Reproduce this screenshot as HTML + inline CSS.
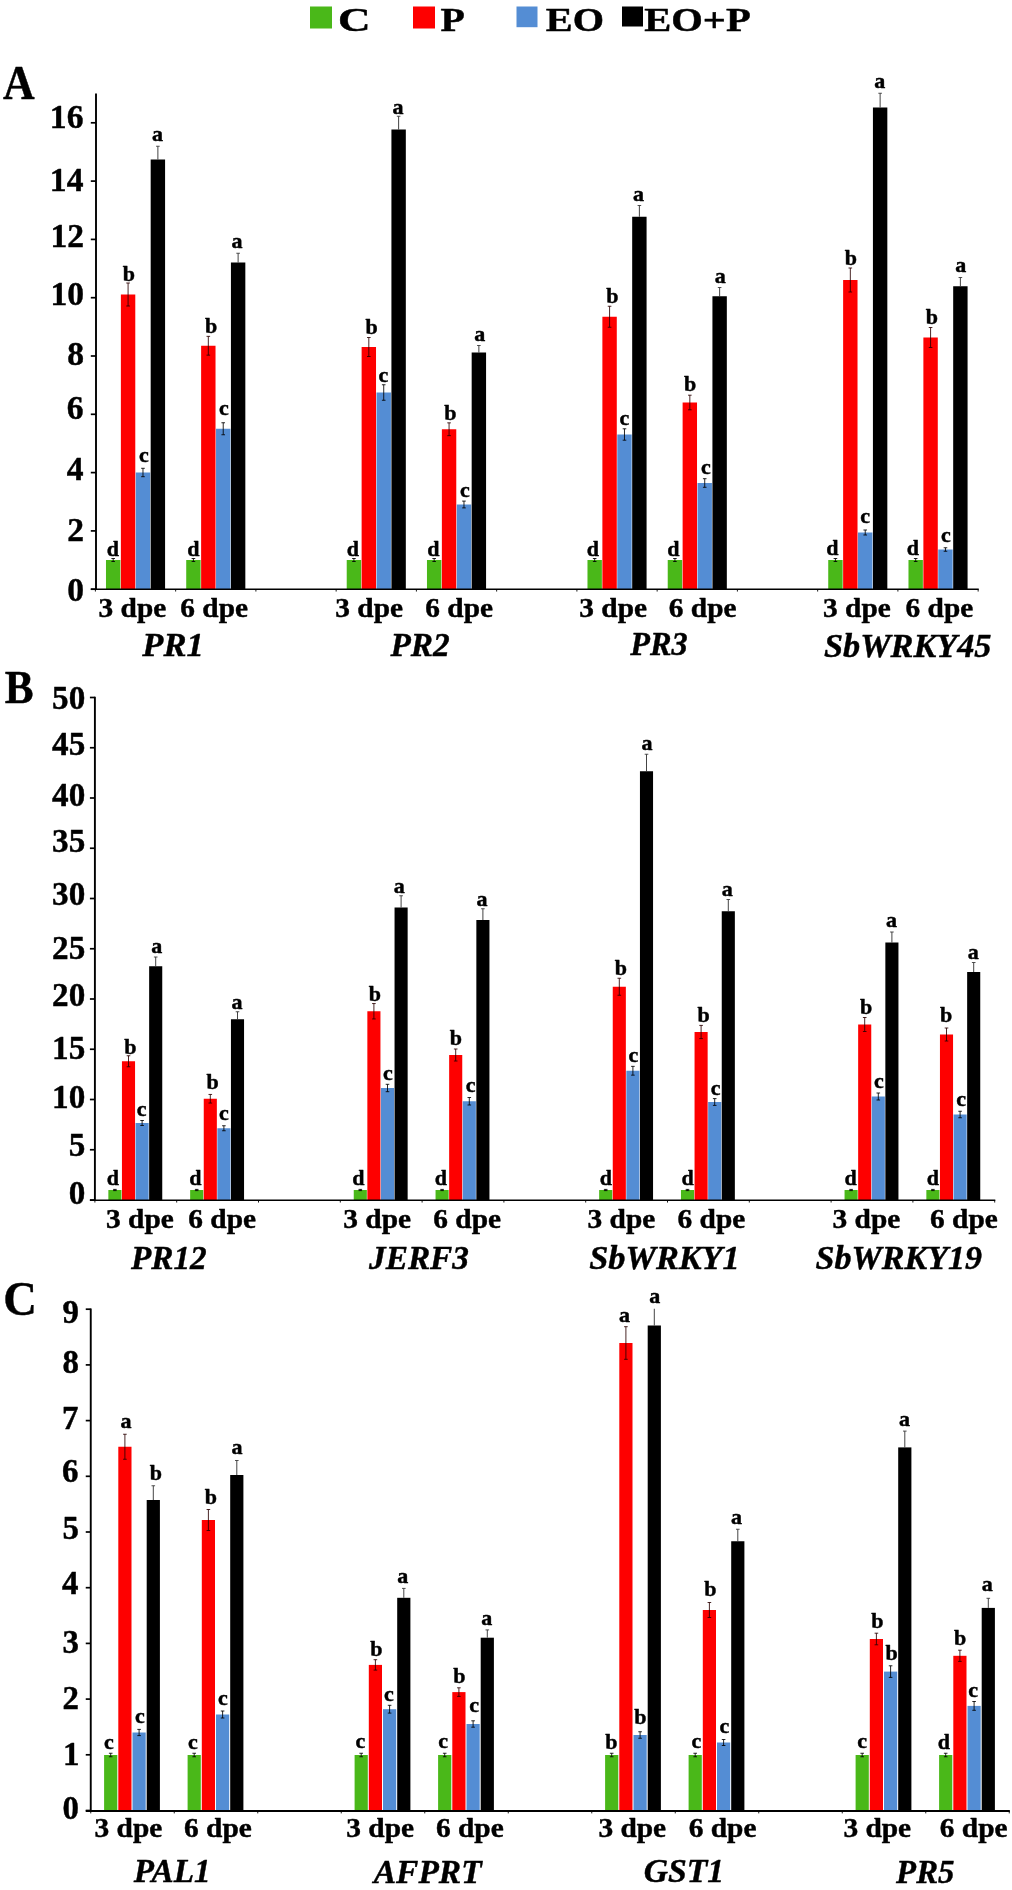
<!DOCTYPE html>
<html lang="en">
<head>
<meta charset="utf-8">
<title>Gene expression bar charts</title>
<style>
html,body{margin:0;padding:0;background:#fff;}
body{width:1012px;height:1890px;overflow:hidden;}
svg{display:block;will-change:transform;}
svg text{font-family:"Liberation Serif", "DejaVu Serif", serif;font-weight:bold;fill:#000;stroke:#000;stroke-width:0.45px;stroke-linejoin:round;white-space:pre;}
</style>
</head>
<body>
<svg width="1012" height="1890" viewBox="0 0 1012 1890">
<rect x="0" y="0" width="1012" height="1890" fill="#ffffff"/>
<g id="legend">
<rect x="310" y="6.5" width="22" height="22.0" fill="#4ab819"/>
<rect x="413" y="6.5" width="22" height="22.0" fill="#fe0000"/>
<rect x="516.5" y="6.5" width="21.0" height="20.7" fill="#548dd4"/>
<rect x="622" y="6.5" width="21" height="20.0" fill="#000000"/>
</g>
<g id="shapes">
<rect x="105.98" y="560.00" width="14.40" height="29.20" fill="#4ab819"/>
<rect x="120.88" y="294.50" width="14.40" height="294.70" fill="#fe0000"/>
<rect x="135.78" y="472.50" width="14.40" height="116.70" fill="#548dd4"/>
<rect x="150.68" y="159.50" width="14.40" height="429.70" fill="#000000"/>
<rect x="186.22" y="560.00" width="14.40" height="29.20" fill="#4ab819"/>
<rect x="201.12" y="345.75" width="14.40" height="243.45" fill="#fe0000"/>
<rect x="216.03" y="428.75" width="14.40" height="160.45" fill="#548dd4"/>
<rect x="230.93" y="262.50" width="14.40" height="326.70" fill="#000000"/>
<rect x="346.72" y="560.00" width="14.40" height="29.20" fill="#4ab819"/>
<rect x="361.62" y="347.00" width="14.40" height="242.20" fill="#fe0000"/>
<rect x="376.52" y="392.50" width="14.40" height="196.70" fill="#548dd4"/>
<rect x="391.42" y="129.50" width="14.40" height="459.70" fill="#000000"/>
<rect x="426.97" y="560.00" width="14.40" height="29.20" fill="#4ab819"/>
<rect x="441.87" y="429.25" width="14.40" height="159.95" fill="#fe0000"/>
<rect x="456.77" y="504.50" width="14.40" height="84.70" fill="#548dd4"/>
<rect x="471.67" y="352.50" width="14.40" height="236.70" fill="#000000"/>
<rect x="587.48" y="560.00" width="14.40" height="29.20" fill="#4ab819"/>
<rect x="602.38" y="316.75" width="14.40" height="272.45" fill="#fe0000"/>
<rect x="617.27" y="434.50" width="14.40" height="154.70" fill="#548dd4"/>
<rect x="632.18" y="216.75" width="14.40" height="372.45" fill="#000000"/>
<rect x="667.73" y="560.00" width="14.40" height="29.20" fill="#4ab819"/>
<rect x="682.62" y="402.50" width="14.40" height="186.70" fill="#fe0000"/>
<rect x="697.52" y="483.00" width="14.40" height="106.20" fill="#548dd4"/>
<rect x="712.43" y="296.25" width="14.40" height="292.95" fill="#000000"/>
<rect x="828.23" y="560.00" width="14.40" height="29.20" fill="#4ab819"/>
<rect x="843.12" y="280.00" width="14.40" height="309.20" fill="#fe0000"/>
<rect x="858.02" y="532.50" width="14.40" height="56.70" fill="#548dd4"/>
<rect x="872.93" y="107.50" width="14.40" height="481.70" fill="#000000"/>
<rect x="908.48" y="560.00" width="14.40" height="29.20" fill="#4ab819"/>
<rect x="923.38" y="337.50" width="14.40" height="251.70" fill="#fe0000"/>
<rect x="938.27" y="549.50" width="14.40" height="39.70" fill="#548dd4"/>
<rect x="953.18" y="286.25" width="14.40" height="302.95" fill="#000000"/>
<line x1="96.00" y1="93.60" x2="96.00" y2="590.05" stroke="#000" stroke-width="1.9"/>
<line x1="90.80" y1="589.30" x2="978.75" y2="589.30" stroke="#000" stroke-width="1.5"/>
<line x1="90.80" y1="589.20" x2="96.00" y2="589.20" stroke="#000" stroke-width="1.7"/>
<line x1="90.80" y1="530.90" x2="96.00" y2="530.90" stroke="#000" stroke-width="1.7"/>
<line x1="90.80" y1="472.60" x2="96.00" y2="472.60" stroke="#000" stroke-width="1.7"/>
<line x1="90.80" y1="414.30" x2="96.00" y2="414.30" stroke="#000" stroke-width="1.7"/>
<line x1="90.80" y1="356.00" x2="96.00" y2="356.00" stroke="#000" stroke-width="1.7"/>
<line x1="90.80" y1="297.70" x2="96.00" y2="297.70" stroke="#000" stroke-width="1.7"/>
<line x1="90.80" y1="239.40" x2="96.00" y2="239.40" stroke="#000" stroke-width="1.7"/>
<line x1="90.80" y1="181.10" x2="96.00" y2="181.10" stroke="#000" stroke-width="1.7"/>
<line x1="90.80" y1="122.80" x2="96.00" y2="122.80" stroke="#000" stroke-width="1.7"/>
<line x1="95.40" y1="589.30" x2="95.40" y2="591.55" stroke="#000" stroke-width="0.9"/>
<line x1="175.65" y1="589.30" x2="175.65" y2="591.55" stroke="#000" stroke-width="0.9"/>
<line x1="255.90" y1="589.30" x2="255.90" y2="591.55" stroke="#000" stroke-width="0.9"/>
<line x1="336.15" y1="589.30" x2="336.15" y2="591.55" stroke="#000" stroke-width="0.9"/>
<line x1="416.40" y1="589.30" x2="416.40" y2="591.55" stroke="#000" stroke-width="0.9"/>
<line x1="496.65" y1="589.30" x2="496.65" y2="591.55" stroke="#000" stroke-width="0.9"/>
<line x1="576.90" y1="589.30" x2="576.90" y2="591.55" stroke="#000" stroke-width="0.9"/>
<line x1="657.15" y1="589.30" x2="657.15" y2="591.55" stroke="#000" stroke-width="0.9"/>
<line x1="737.40" y1="589.30" x2="737.40" y2="591.55" stroke="#000" stroke-width="0.9"/>
<line x1="817.65" y1="589.30" x2="817.65" y2="591.55" stroke="#000" stroke-width="0.9"/>
<line x1="897.90" y1="589.30" x2="897.90" y2="591.55" stroke="#000" stroke-width="0.9"/>
<line x1="978.15" y1="589.30" x2="978.15" y2="591.55" stroke="#000" stroke-width="0.9"/>
<line x1="113.18" y1="558.50" x2="113.18" y2="561.50" stroke="#000" stroke-width="0.85"/>
<line x1="111.38" y1="561.50" x2="114.98" y2="561.50" stroke="#000" stroke-width="0.85"/>
<line x1="111.38" y1="558.50" x2="114.98" y2="558.50" stroke="#000" stroke-width="0.85"/>
<line x1="128.08" y1="283.00" x2="128.08" y2="306.00" stroke="#2a0000" stroke-width="0.85"/>
<line x1="126.28" y1="306.00" x2="129.88" y2="306.00" stroke="#2a0000" stroke-width="0.85"/>
<line x1="126.28" y1="283.00" x2="129.88" y2="283.00" stroke="#2a0000" stroke-width="0.85"/>
<line x1="142.97" y1="468.30" x2="142.97" y2="476.70" stroke="#000" stroke-width="0.85"/>
<line x1="141.17" y1="476.70" x2="144.78" y2="476.70" stroke="#000" stroke-width="0.85"/>
<line x1="141.17" y1="468.30" x2="144.78" y2="468.30" stroke="#000" stroke-width="0.85"/>
<line x1="157.88" y1="146.25" x2="157.88" y2="159.50" stroke="#222" stroke-width="0.85"/>
<line x1="156.07" y1="146.25" x2="159.68" y2="146.25" stroke="#333" stroke-width="0.85"/>
<line x1="193.42" y1="558.50" x2="193.42" y2="561.50" stroke="#000" stroke-width="0.85"/>
<line x1="191.62" y1="561.50" x2="195.22" y2="561.50" stroke="#000" stroke-width="0.85"/>
<line x1="191.62" y1="558.50" x2="195.22" y2="558.50" stroke="#000" stroke-width="0.85"/>
<line x1="208.32" y1="336.35" x2="208.32" y2="355.15" stroke="#2a0000" stroke-width="0.85"/>
<line x1="206.52" y1="355.15" x2="210.12" y2="355.15" stroke="#2a0000" stroke-width="0.85"/>
<line x1="206.52" y1="336.35" x2="210.12" y2="336.35" stroke="#2a0000" stroke-width="0.85"/>
<line x1="223.22" y1="422.75" x2="223.22" y2="434.75" stroke="#000" stroke-width="0.85"/>
<line x1="221.42" y1="434.75" x2="225.03" y2="434.75" stroke="#000" stroke-width="0.85"/>
<line x1="221.42" y1="422.75" x2="225.03" y2="422.75" stroke="#000" stroke-width="0.85"/>
<line x1="238.12" y1="253.25" x2="238.12" y2="262.50" stroke="#222" stroke-width="0.85"/>
<line x1="236.32" y1="253.25" x2="239.93" y2="253.25" stroke="#333" stroke-width="0.85"/>
<line x1="353.92" y1="558.50" x2="353.92" y2="561.50" stroke="#000" stroke-width="0.85"/>
<line x1="352.12" y1="561.50" x2="355.72" y2="561.50" stroke="#000" stroke-width="0.85"/>
<line x1="352.12" y1="558.50" x2="355.72" y2="558.50" stroke="#000" stroke-width="0.85"/>
<line x1="368.82" y1="337.50" x2="368.82" y2="356.50" stroke="#2a0000" stroke-width="0.85"/>
<line x1="367.02" y1="356.50" x2="370.62" y2="356.50" stroke="#2a0000" stroke-width="0.85"/>
<line x1="367.02" y1="337.50" x2="370.62" y2="337.50" stroke="#2a0000" stroke-width="0.85"/>
<line x1="383.72" y1="384.75" x2="383.72" y2="400.25" stroke="#000" stroke-width="0.85"/>
<line x1="381.92" y1="400.25" x2="385.52" y2="400.25" stroke="#000" stroke-width="0.85"/>
<line x1="381.92" y1="384.75" x2="385.52" y2="384.75" stroke="#000" stroke-width="0.85"/>
<line x1="398.62" y1="116.25" x2="398.62" y2="129.50" stroke="#222" stroke-width="0.85"/>
<line x1="396.82" y1="116.25" x2="400.42" y2="116.25" stroke="#333" stroke-width="0.85"/>
<line x1="434.17" y1="558.50" x2="434.17" y2="561.50" stroke="#000" stroke-width="0.85"/>
<line x1="432.37" y1="561.50" x2="435.97" y2="561.50" stroke="#000" stroke-width="0.85"/>
<line x1="432.37" y1="558.50" x2="435.97" y2="558.50" stroke="#000" stroke-width="0.85"/>
<line x1="449.07" y1="422.85" x2="449.07" y2="435.65" stroke="#2a0000" stroke-width="0.85"/>
<line x1="447.27" y1="435.65" x2="450.87" y2="435.65" stroke="#2a0000" stroke-width="0.85"/>
<line x1="447.27" y1="422.85" x2="450.87" y2="422.85" stroke="#2a0000" stroke-width="0.85"/>
<line x1="463.97" y1="501.10" x2="463.97" y2="507.90" stroke="#000" stroke-width="0.85"/>
<line x1="462.17" y1="507.90" x2="465.77" y2="507.90" stroke="#000" stroke-width="0.85"/>
<line x1="462.17" y1="501.10" x2="465.77" y2="501.10" stroke="#000" stroke-width="0.85"/>
<line x1="478.87" y1="345.50" x2="478.87" y2="352.50" stroke="#222" stroke-width="0.85"/>
<line x1="477.07" y1="345.50" x2="480.67" y2="345.50" stroke="#333" stroke-width="0.85"/>
<line x1="594.68" y1="558.50" x2="594.68" y2="561.50" stroke="#000" stroke-width="0.85"/>
<line x1="592.88" y1="561.50" x2="596.48" y2="561.50" stroke="#000" stroke-width="0.85"/>
<line x1="592.88" y1="558.50" x2="596.48" y2="558.50" stroke="#000" stroke-width="0.85"/>
<line x1="609.58" y1="306.25" x2="609.58" y2="327.25" stroke="#2a0000" stroke-width="0.85"/>
<line x1="607.78" y1="327.25" x2="611.38" y2="327.25" stroke="#2a0000" stroke-width="0.85"/>
<line x1="607.78" y1="306.25" x2="611.38" y2="306.25" stroke="#2a0000" stroke-width="0.85"/>
<line x1="624.48" y1="428.80" x2="624.48" y2="440.20" stroke="#000" stroke-width="0.85"/>
<line x1="622.68" y1="440.20" x2="626.27" y2="440.20" stroke="#000" stroke-width="0.85"/>
<line x1="622.68" y1="428.80" x2="626.27" y2="428.80" stroke="#000" stroke-width="0.85"/>
<line x1="639.38" y1="205.50" x2="639.38" y2="216.75" stroke="#222" stroke-width="0.85"/>
<line x1="637.58" y1="205.50" x2="641.18" y2="205.50" stroke="#333" stroke-width="0.85"/>
<line x1="674.93" y1="558.50" x2="674.93" y2="561.50" stroke="#000" stroke-width="0.85"/>
<line x1="673.13" y1="561.50" x2="676.73" y2="561.50" stroke="#000" stroke-width="0.85"/>
<line x1="673.13" y1="558.50" x2="676.73" y2="558.50" stroke="#000" stroke-width="0.85"/>
<line x1="689.83" y1="395.20" x2="689.83" y2="409.80" stroke="#2a0000" stroke-width="0.85"/>
<line x1="688.03" y1="409.80" x2="691.62" y2="409.80" stroke="#2a0000" stroke-width="0.85"/>
<line x1="688.03" y1="395.20" x2="691.62" y2="395.20" stroke="#2a0000" stroke-width="0.85"/>
<line x1="704.73" y1="478.70" x2="704.73" y2="487.30" stroke="#000" stroke-width="0.85"/>
<line x1="702.93" y1="487.30" x2="706.52" y2="487.30" stroke="#000" stroke-width="0.85"/>
<line x1="702.93" y1="478.70" x2="706.52" y2="478.70" stroke="#000" stroke-width="0.85"/>
<line x1="719.63" y1="287.50" x2="719.63" y2="296.25" stroke="#222" stroke-width="0.85"/>
<line x1="717.83" y1="287.50" x2="721.43" y2="287.50" stroke="#333" stroke-width="0.85"/>
<line x1="835.43" y1="558.50" x2="835.43" y2="561.50" stroke="#000" stroke-width="0.85"/>
<line x1="833.63" y1="561.50" x2="837.23" y2="561.50" stroke="#000" stroke-width="0.85"/>
<line x1="833.63" y1="558.50" x2="837.23" y2="558.50" stroke="#000" stroke-width="0.85"/>
<line x1="850.33" y1="268.00" x2="850.33" y2="292.00" stroke="#2a0000" stroke-width="0.85"/>
<line x1="848.53" y1="292.00" x2="852.12" y2="292.00" stroke="#2a0000" stroke-width="0.85"/>
<line x1="848.53" y1="268.00" x2="852.12" y2="268.00" stroke="#2a0000" stroke-width="0.85"/>
<line x1="865.23" y1="530.00" x2="865.23" y2="535.00" stroke="#000" stroke-width="0.85"/>
<line x1="863.43" y1="535.00" x2="867.02" y2="535.00" stroke="#000" stroke-width="0.85"/>
<line x1="863.43" y1="530.00" x2="867.02" y2="530.00" stroke="#000" stroke-width="0.85"/>
<line x1="880.13" y1="93.25" x2="880.13" y2="107.50" stroke="#222" stroke-width="0.85"/>
<line x1="878.33" y1="93.25" x2="881.93" y2="93.25" stroke="#333" stroke-width="0.85"/>
<line x1="915.68" y1="558.50" x2="915.68" y2="561.50" stroke="#000" stroke-width="0.85"/>
<line x1="913.88" y1="561.50" x2="917.48" y2="561.50" stroke="#000" stroke-width="0.85"/>
<line x1="913.88" y1="558.50" x2="917.48" y2="558.50" stroke="#000" stroke-width="0.85"/>
<line x1="930.58" y1="327.50" x2="930.58" y2="347.50" stroke="#2a0000" stroke-width="0.85"/>
<line x1="928.78" y1="347.50" x2="932.38" y2="347.50" stroke="#2a0000" stroke-width="0.85"/>
<line x1="928.78" y1="327.50" x2="932.38" y2="327.50" stroke="#2a0000" stroke-width="0.85"/>
<line x1="945.48" y1="547.75" x2="945.48" y2="551.25" stroke="#000" stroke-width="0.85"/>
<line x1="943.68" y1="551.25" x2="947.27" y2="551.25" stroke="#000" stroke-width="0.85"/>
<line x1="943.68" y1="547.75" x2="947.27" y2="547.75" stroke="#000" stroke-width="0.85"/>
<line x1="960.38" y1="277.50" x2="960.38" y2="286.25" stroke="#222" stroke-width="0.85"/>
<line x1="958.58" y1="277.50" x2="962.18" y2="277.50" stroke="#333" stroke-width="0.85"/>
<rect x="108.35" y="1190.00" width="13.10" height="10.00" fill="#4ab819"/>
<rect x="121.95" y="1061.25" width="13.10" height="138.75" fill="#fe0000"/>
<rect x="135.55" y="1123.00" width="13.10" height="77.00" fill="#548dd4"/>
<rect x="149.15" y="966.25" width="13.10" height="233.75" fill="#000000"/>
<rect x="190.15" y="1190.00" width="13.10" height="10.00" fill="#4ab819"/>
<rect x="203.75" y="1098.75" width="13.10" height="101.25" fill="#fe0000"/>
<rect x="217.35" y="1128.25" width="13.10" height="71.75" fill="#548dd4"/>
<rect x="230.95" y="1019.25" width="13.10" height="180.75" fill="#000000"/>
<rect x="353.75" y="1190.00" width="13.10" height="10.00" fill="#4ab819"/>
<rect x="367.35" y="1011.25" width="13.10" height="188.75" fill="#fe0000"/>
<rect x="380.95" y="1088.00" width="13.10" height="112.00" fill="#548dd4"/>
<rect x="394.55" y="907.50" width="13.10" height="292.50" fill="#000000"/>
<rect x="435.55" y="1190.00" width="13.10" height="10.00" fill="#4ab819"/>
<rect x="449.15" y="1055.00" width="13.10" height="145.00" fill="#fe0000"/>
<rect x="462.75" y="1101.25" width="13.10" height="98.75" fill="#548dd4"/>
<rect x="476.35" y="920.00" width="13.10" height="280.00" fill="#000000"/>
<rect x="599.15" y="1190.00" width="13.10" height="10.00" fill="#4ab819"/>
<rect x="612.75" y="986.75" width="13.10" height="213.25" fill="#fe0000"/>
<rect x="626.35" y="1070.75" width="13.10" height="129.25" fill="#548dd4"/>
<rect x="639.95" y="771.25" width="13.10" height="428.75" fill="#000000"/>
<rect x="680.95" y="1190.00" width="13.10" height="10.00" fill="#4ab819"/>
<rect x="694.55" y="1032.00" width="13.10" height="168.00" fill="#fe0000"/>
<rect x="708.15" y="1102.00" width="13.10" height="98.00" fill="#548dd4"/>
<rect x="721.75" y="911.25" width="13.10" height="288.75" fill="#000000"/>
<rect x="844.55" y="1190.00" width="13.10" height="10.00" fill="#4ab819"/>
<rect x="858.15" y="1024.50" width="13.10" height="175.50" fill="#fe0000"/>
<rect x="871.75" y="1096.50" width="13.10" height="103.50" fill="#548dd4"/>
<rect x="885.35" y="942.50" width="13.10" height="257.50" fill="#000000"/>
<rect x="926.35" y="1190.00" width="13.10" height="10.00" fill="#4ab819"/>
<rect x="939.95" y="1034.50" width="13.10" height="165.50" fill="#fe0000"/>
<rect x="953.55" y="1114.50" width="13.10" height="85.50" fill="#548dd4"/>
<rect x="967.15" y="972.00" width="13.10" height="228.00" fill="#000000"/>
<line x1="94.90" y1="696.65" x2="94.90" y2="1201.05" stroke="#000" stroke-width="1.9"/>
<line x1="89.90" y1="1200.25" x2="995.30" y2="1200.25" stroke="#000" stroke-width="1.6"/>
<line x1="89.90" y1="697.50" x2="94.90" y2="697.50" stroke="#000" stroke-width="1.7"/>
<line x1="89.90" y1="747.75" x2="94.90" y2="747.75" stroke="#000" stroke-width="1.7"/>
<line x1="89.90" y1="798.00" x2="94.90" y2="798.00" stroke="#000" stroke-width="1.7"/>
<line x1="89.90" y1="848.25" x2="94.90" y2="848.25" stroke="#000" stroke-width="1.7"/>
<line x1="89.90" y1="898.50" x2="94.90" y2="898.50" stroke="#000" stroke-width="1.7"/>
<line x1="89.90" y1="948.75" x2="94.90" y2="948.75" stroke="#000" stroke-width="1.7"/>
<line x1="89.90" y1="999.00" x2="94.90" y2="999.00" stroke="#000" stroke-width="1.7"/>
<line x1="89.90" y1="1049.25" x2="94.90" y2="1049.25" stroke="#000" stroke-width="1.7"/>
<line x1="89.90" y1="1099.50" x2="94.90" y2="1099.50" stroke="#000" stroke-width="1.7"/>
<line x1="89.90" y1="1149.75" x2="94.90" y2="1149.75" stroke="#000" stroke-width="1.7"/>
<line x1="89.90" y1="1200.00" x2="94.90" y2="1200.00" stroke="#000" stroke-width="1.7"/>
<line x1="94.90" y1="1200.25" x2="94.90" y2="1202.55" stroke="#000" stroke-width="0.9"/>
<line x1="176.70" y1="1200.25" x2="176.70" y2="1202.55" stroke="#000" stroke-width="0.9"/>
<line x1="258.50" y1="1200.25" x2="258.50" y2="1202.55" stroke="#000" stroke-width="0.9"/>
<line x1="340.30" y1="1200.25" x2="340.30" y2="1202.55" stroke="#000" stroke-width="0.9"/>
<line x1="422.10" y1="1200.25" x2="422.10" y2="1202.55" stroke="#000" stroke-width="0.9"/>
<line x1="503.90" y1="1200.25" x2="503.90" y2="1202.55" stroke="#000" stroke-width="0.9"/>
<line x1="585.70" y1="1200.25" x2="585.70" y2="1202.55" stroke="#000" stroke-width="0.9"/>
<line x1="667.50" y1="1200.25" x2="667.50" y2="1202.55" stroke="#000" stroke-width="0.9"/>
<line x1="749.30" y1="1200.25" x2="749.30" y2="1202.55" stroke="#000" stroke-width="0.9"/>
<line x1="831.10" y1="1200.25" x2="831.10" y2="1202.55" stroke="#000" stroke-width="0.9"/>
<line x1="912.90" y1="1200.25" x2="912.90" y2="1202.55" stroke="#000" stroke-width="0.9"/>
<line x1="994.70" y1="1200.25" x2="994.70" y2="1202.55" stroke="#000" stroke-width="0.9"/>
<line x1="114.90" y1="1189.40" x2="114.90" y2="1190.60" stroke="#000" stroke-width="0.85"/>
<line x1="113.10" y1="1190.60" x2="116.70" y2="1190.60" stroke="#000" stroke-width="0.85"/>
<line x1="113.10" y1="1189.40" x2="116.70" y2="1189.40" stroke="#000" stroke-width="0.85"/>
<line x1="128.50" y1="1055.75" x2="128.50" y2="1066.75" stroke="#2a0000" stroke-width="0.85"/>
<line x1="126.70" y1="1066.75" x2="130.30" y2="1066.75" stroke="#2a0000" stroke-width="0.85"/>
<line x1="126.70" y1="1055.75" x2="130.30" y2="1055.75" stroke="#2a0000" stroke-width="0.85"/>
<line x1="142.10" y1="1120.50" x2="142.10" y2="1125.50" stroke="#000" stroke-width="0.85"/>
<line x1="140.30" y1="1125.50" x2="143.90" y2="1125.50" stroke="#000" stroke-width="0.85"/>
<line x1="140.30" y1="1120.50" x2="143.90" y2="1120.50" stroke="#000" stroke-width="0.85"/>
<line x1="155.70" y1="957.00" x2="155.70" y2="966.25" stroke="#222" stroke-width="0.85"/>
<line x1="153.90" y1="957.00" x2="157.50" y2="957.00" stroke="#333" stroke-width="0.85"/>
<line x1="196.70" y1="1189.40" x2="196.70" y2="1190.60" stroke="#000" stroke-width="0.85"/>
<line x1="194.90" y1="1190.60" x2="198.50" y2="1190.60" stroke="#000" stroke-width="0.85"/>
<line x1="194.90" y1="1189.40" x2="198.50" y2="1189.40" stroke="#000" stroke-width="0.85"/>
<line x1="210.30" y1="1094.45" x2="210.30" y2="1103.05" stroke="#2a0000" stroke-width="0.85"/>
<line x1="208.50" y1="1103.05" x2="212.10" y2="1103.05" stroke="#2a0000" stroke-width="0.85"/>
<line x1="208.50" y1="1094.45" x2="212.10" y2="1094.45" stroke="#2a0000" stroke-width="0.85"/>
<line x1="223.90" y1="1125.75" x2="223.90" y2="1130.75" stroke="#000" stroke-width="0.85"/>
<line x1="222.10" y1="1130.75" x2="225.70" y2="1130.75" stroke="#000" stroke-width="0.85"/>
<line x1="222.10" y1="1125.75" x2="225.70" y2="1125.75" stroke="#000" stroke-width="0.85"/>
<line x1="237.50" y1="1011.75" x2="237.50" y2="1019.25" stroke="#222" stroke-width="0.85"/>
<line x1="235.70" y1="1011.75" x2="239.30" y2="1011.75" stroke="#333" stroke-width="0.85"/>
<line x1="360.30" y1="1189.40" x2="360.30" y2="1190.60" stroke="#000" stroke-width="0.85"/>
<line x1="358.50" y1="1190.60" x2="362.10" y2="1190.60" stroke="#000" stroke-width="0.85"/>
<line x1="358.50" y1="1189.40" x2="362.10" y2="1189.40" stroke="#000" stroke-width="0.85"/>
<line x1="373.90" y1="1003.55" x2="373.90" y2="1018.95" stroke="#2a0000" stroke-width="0.85"/>
<line x1="372.10" y1="1018.95" x2="375.70" y2="1018.95" stroke="#2a0000" stroke-width="0.85"/>
<line x1="372.10" y1="1003.55" x2="375.70" y2="1003.55" stroke="#2a0000" stroke-width="0.85"/>
<line x1="387.50" y1="1084.30" x2="387.50" y2="1091.70" stroke="#000" stroke-width="0.85"/>
<line x1="385.70" y1="1091.70" x2="389.30" y2="1091.70" stroke="#000" stroke-width="0.85"/>
<line x1="385.70" y1="1084.30" x2="389.30" y2="1084.30" stroke="#000" stroke-width="0.85"/>
<line x1="401.10" y1="895.75" x2="401.10" y2="907.50" stroke="#222" stroke-width="0.85"/>
<line x1="399.30" y1="895.75" x2="402.90" y2="895.75" stroke="#333" stroke-width="0.85"/>
<line x1="442.10" y1="1189.40" x2="442.10" y2="1190.60" stroke="#000" stroke-width="0.85"/>
<line x1="440.30" y1="1190.60" x2="443.90" y2="1190.60" stroke="#000" stroke-width="0.85"/>
<line x1="440.30" y1="1189.40" x2="443.90" y2="1189.40" stroke="#000" stroke-width="0.85"/>
<line x1="455.70" y1="1049.00" x2="455.70" y2="1061.00" stroke="#2a0000" stroke-width="0.85"/>
<line x1="453.90" y1="1061.00" x2="457.50" y2="1061.00" stroke="#2a0000" stroke-width="0.85"/>
<line x1="453.90" y1="1049.00" x2="457.50" y2="1049.00" stroke="#2a0000" stroke-width="0.85"/>
<line x1="469.30" y1="1097.50" x2="469.30" y2="1105.00" stroke="#000" stroke-width="0.85"/>
<line x1="467.50" y1="1105.00" x2="471.10" y2="1105.00" stroke="#000" stroke-width="0.85"/>
<line x1="467.50" y1="1097.50" x2="471.10" y2="1097.50" stroke="#000" stroke-width="0.85"/>
<line x1="482.90" y1="908.75" x2="482.90" y2="920.00" stroke="#222" stroke-width="0.85"/>
<line x1="481.10" y1="908.75" x2="484.70" y2="908.75" stroke="#333" stroke-width="0.85"/>
<line x1="605.70" y1="1189.40" x2="605.70" y2="1190.60" stroke="#000" stroke-width="0.85"/>
<line x1="603.90" y1="1190.60" x2="607.50" y2="1190.60" stroke="#000" stroke-width="0.85"/>
<line x1="603.90" y1="1189.40" x2="607.50" y2="1189.40" stroke="#000" stroke-width="0.85"/>
<line x1="619.30" y1="978.25" x2="619.30" y2="995.25" stroke="#2a0000" stroke-width="0.85"/>
<line x1="617.50" y1="995.25" x2="621.10" y2="995.25" stroke="#2a0000" stroke-width="0.85"/>
<line x1="617.50" y1="978.25" x2="621.10" y2="978.25" stroke="#2a0000" stroke-width="0.85"/>
<line x1="632.90" y1="1066.35" x2="632.90" y2="1075.15" stroke="#000" stroke-width="0.85"/>
<line x1="631.10" y1="1075.15" x2="634.70" y2="1075.15" stroke="#000" stroke-width="0.85"/>
<line x1="631.10" y1="1066.35" x2="634.70" y2="1066.35" stroke="#000" stroke-width="0.85"/>
<line x1="646.50" y1="754.25" x2="646.50" y2="771.25" stroke="#222" stroke-width="0.85"/>
<line x1="644.70" y1="754.25" x2="648.30" y2="754.25" stroke="#333" stroke-width="0.85"/>
<line x1="687.50" y1="1189.40" x2="687.50" y2="1190.60" stroke="#000" stroke-width="0.85"/>
<line x1="685.70" y1="1190.60" x2="689.30" y2="1190.60" stroke="#000" stroke-width="0.85"/>
<line x1="685.70" y1="1189.40" x2="689.30" y2="1189.40" stroke="#000" stroke-width="0.85"/>
<line x1="701.10" y1="1025.40" x2="701.10" y2="1038.60" stroke="#2a0000" stroke-width="0.85"/>
<line x1="699.30" y1="1038.60" x2="702.90" y2="1038.60" stroke="#2a0000" stroke-width="0.85"/>
<line x1="699.30" y1="1025.40" x2="702.90" y2="1025.40" stroke="#2a0000" stroke-width="0.85"/>
<line x1="714.70" y1="1098.60" x2="714.70" y2="1105.40" stroke="#000" stroke-width="0.85"/>
<line x1="712.90" y1="1105.40" x2="716.50" y2="1105.40" stroke="#000" stroke-width="0.85"/>
<line x1="712.90" y1="1098.60" x2="716.50" y2="1098.60" stroke="#000" stroke-width="0.85"/>
<line x1="728.30" y1="899.50" x2="728.30" y2="911.25" stroke="#222" stroke-width="0.85"/>
<line x1="726.50" y1="899.50" x2="730.10" y2="899.50" stroke="#333" stroke-width="0.85"/>
<line x1="851.10" y1="1189.40" x2="851.10" y2="1190.60" stroke="#000" stroke-width="0.85"/>
<line x1="849.30" y1="1190.60" x2="852.90" y2="1190.60" stroke="#000" stroke-width="0.85"/>
<line x1="849.30" y1="1189.40" x2="852.90" y2="1189.40" stroke="#000" stroke-width="0.85"/>
<line x1="864.70" y1="1017.50" x2="864.70" y2="1031.50" stroke="#2a0000" stroke-width="0.85"/>
<line x1="862.90" y1="1031.50" x2="866.50" y2="1031.50" stroke="#2a0000" stroke-width="0.85"/>
<line x1="862.90" y1="1017.50" x2="866.50" y2="1017.50" stroke="#2a0000" stroke-width="0.85"/>
<line x1="878.30" y1="1093.00" x2="878.30" y2="1100.00" stroke="#000" stroke-width="0.85"/>
<line x1="876.50" y1="1100.00" x2="880.10" y2="1100.00" stroke="#000" stroke-width="0.85"/>
<line x1="876.50" y1="1093.00" x2="880.10" y2="1093.00" stroke="#000" stroke-width="0.85"/>
<line x1="891.90" y1="932.00" x2="891.90" y2="942.50" stroke="#222" stroke-width="0.85"/>
<line x1="890.10" y1="932.00" x2="893.70" y2="932.00" stroke="#333" stroke-width="0.85"/>
<line x1="932.90" y1="1189.40" x2="932.90" y2="1190.60" stroke="#000" stroke-width="0.85"/>
<line x1="931.10" y1="1190.60" x2="934.70" y2="1190.60" stroke="#000" stroke-width="0.85"/>
<line x1="931.10" y1="1189.40" x2="934.70" y2="1189.40" stroke="#000" stroke-width="0.85"/>
<line x1="946.50" y1="1028.00" x2="946.50" y2="1041.00" stroke="#2a0000" stroke-width="0.85"/>
<line x1="944.70" y1="1041.00" x2="948.30" y2="1041.00" stroke="#2a0000" stroke-width="0.85"/>
<line x1="944.70" y1="1028.00" x2="948.30" y2="1028.00" stroke="#2a0000" stroke-width="0.85"/>
<line x1="960.10" y1="1111.25" x2="960.10" y2="1117.75" stroke="#000" stroke-width="0.85"/>
<line x1="958.30" y1="1117.75" x2="961.90" y2="1117.75" stroke="#000" stroke-width="0.85"/>
<line x1="958.30" y1="1111.25" x2="961.90" y2="1111.25" stroke="#000" stroke-width="0.85"/>
<line x1="973.70" y1="962.50" x2="973.70" y2="972.00" stroke="#222" stroke-width="0.85"/>
<line x1="971.90" y1="962.50" x2="975.50" y2="962.50" stroke="#333" stroke-width="0.85"/>
<rect x="104.10" y="1755.00" width="13.20" height="55.50" fill="#4ab819"/>
<rect x="118.30" y="1446.75" width="13.20" height="363.75" fill="#fe0000"/>
<rect x="132.50" y="1732.50" width="13.20" height="78.00" fill="#548dd4"/>
<rect x="146.70" y="1500.00" width="13.20" height="310.50" fill="#000000"/>
<rect x="187.60" y="1755.00" width="13.20" height="55.50" fill="#4ab819"/>
<rect x="201.80" y="1520.00" width="13.20" height="290.50" fill="#fe0000"/>
<rect x="216.00" y="1714.50" width="13.20" height="96.00" fill="#548dd4"/>
<rect x="230.20" y="1475.00" width="13.20" height="335.50" fill="#000000"/>
<rect x="354.60" y="1755.00" width="13.20" height="55.50" fill="#4ab819"/>
<rect x="368.80" y="1664.90" width="13.20" height="145.60" fill="#fe0000"/>
<rect x="383.00" y="1709.20" width="13.20" height="101.30" fill="#548dd4"/>
<rect x="397.20" y="1597.80" width="13.20" height="212.70" fill="#000000"/>
<rect x="438.10" y="1755.00" width="13.20" height="55.50" fill="#4ab819"/>
<rect x="452.30" y="1692.10" width="13.20" height="118.40" fill="#fe0000"/>
<rect x="466.50" y="1724.00" width="13.20" height="86.50" fill="#548dd4"/>
<rect x="480.70" y="1637.70" width="13.20" height="172.80" fill="#000000"/>
<rect x="605.10" y="1755.00" width="13.20" height="55.50" fill="#4ab819"/>
<rect x="619.30" y="1343.00" width="13.20" height="467.50" fill="#fe0000"/>
<rect x="633.50" y="1735.00" width="13.20" height="75.50" fill="#548dd4"/>
<rect x="647.70" y="1325.50" width="13.20" height="485.00" fill="#000000"/>
<rect x="688.60" y="1755.00" width="13.20" height="55.50" fill="#4ab819"/>
<rect x="702.80" y="1610.00" width="13.20" height="200.50" fill="#fe0000"/>
<rect x="717.00" y="1742.50" width="13.20" height="68.00" fill="#548dd4"/>
<rect x="731.20" y="1541.25" width="13.20" height="269.25" fill="#000000"/>
<rect x="855.60" y="1755.00" width="13.20" height="55.50" fill="#4ab819"/>
<rect x="869.80" y="1639.00" width="13.20" height="171.50" fill="#fe0000"/>
<rect x="884.00" y="1671.60" width="13.20" height="138.90" fill="#548dd4"/>
<rect x="898.20" y="1447.40" width="13.20" height="363.10" fill="#000000"/>
<rect x="939.10" y="1755.00" width="13.20" height="55.50" fill="#4ab819"/>
<rect x="953.30" y="1655.80" width="13.20" height="154.70" fill="#fe0000"/>
<rect x="967.50" y="1705.90" width="13.20" height="104.60" fill="#548dd4"/>
<rect x="981.70" y="1607.90" width="13.20" height="202.60" fill="#000000"/>
<line x1="90.75" y1="1308.40" x2="90.75" y2="1811.90" stroke="#000" stroke-width="1.9"/>
<line x1="85.75" y1="1811.00" x2="1009.85" y2="1811.00" stroke="#000" stroke-width="1.8"/>
<line x1="85.75" y1="1810.50" x2="90.75" y2="1810.50" stroke="#000" stroke-width="1.7"/>
<line x1="85.75" y1="1754.80" x2="90.75" y2="1754.80" stroke="#000" stroke-width="1.7"/>
<line x1="85.75" y1="1699.10" x2="90.75" y2="1699.10" stroke="#000" stroke-width="1.7"/>
<line x1="85.75" y1="1643.40" x2="90.75" y2="1643.40" stroke="#000" stroke-width="1.7"/>
<line x1="85.75" y1="1587.70" x2="90.75" y2="1587.70" stroke="#000" stroke-width="1.7"/>
<line x1="85.75" y1="1532.00" x2="90.75" y2="1532.00" stroke="#000" stroke-width="1.7"/>
<line x1="85.75" y1="1476.30" x2="90.75" y2="1476.30" stroke="#000" stroke-width="1.7"/>
<line x1="85.75" y1="1420.60" x2="90.75" y2="1420.60" stroke="#000" stroke-width="1.7"/>
<line x1="85.75" y1="1364.90" x2="90.75" y2="1364.90" stroke="#000" stroke-width="1.7"/>
<line x1="85.75" y1="1309.20" x2="90.75" y2="1309.20" stroke="#000" stroke-width="1.7"/>
<line x1="90.75" y1="1811.00" x2="90.75" y2="1813.40" stroke="#000" stroke-width="0.9"/>
<line x1="174.25" y1="1811.00" x2="174.25" y2="1813.40" stroke="#000" stroke-width="0.9"/>
<line x1="257.75" y1="1811.00" x2="257.75" y2="1813.40" stroke="#000" stroke-width="0.9"/>
<line x1="341.25" y1="1811.00" x2="341.25" y2="1813.40" stroke="#000" stroke-width="0.9"/>
<line x1="424.75" y1="1811.00" x2="424.75" y2="1813.40" stroke="#000" stroke-width="0.9"/>
<line x1="508.25" y1="1811.00" x2="508.25" y2="1813.40" stroke="#000" stroke-width="0.9"/>
<line x1="591.75" y1="1811.00" x2="591.75" y2="1813.40" stroke="#000" stroke-width="0.9"/>
<line x1="675.25" y1="1811.00" x2="675.25" y2="1813.40" stroke="#000" stroke-width="0.9"/>
<line x1="758.75" y1="1811.00" x2="758.75" y2="1813.40" stroke="#000" stroke-width="0.9"/>
<line x1="842.25" y1="1811.00" x2="842.25" y2="1813.40" stroke="#000" stroke-width="0.9"/>
<line x1="925.75" y1="1811.00" x2="925.75" y2="1813.40" stroke="#000" stroke-width="0.9"/>
<line x1="1009.25" y1="1811.00" x2="1009.25" y2="1813.40" stroke="#000" stroke-width="0.9"/>
<line x1="110.70" y1="1753.25" x2="110.70" y2="1756.75" stroke="#000" stroke-width="0.85"/>
<line x1="108.90" y1="1756.75" x2="112.50" y2="1756.75" stroke="#000" stroke-width="0.85"/>
<line x1="108.90" y1="1753.25" x2="112.50" y2="1753.25" stroke="#000" stroke-width="0.85"/>
<line x1="124.90" y1="1434.25" x2="124.90" y2="1459.25" stroke="#2a0000" stroke-width="0.85"/>
<line x1="123.10" y1="1459.25" x2="126.70" y2="1459.25" stroke="#2a0000" stroke-width="0.85"/>
<line x1="123.10" y1="1434.25" x2="126.70" y2="1434.25" stroke="#2a0000" stroke-width="0.85"/>
<line x1="139.10" y1="1729.40" x2="139.10" y2="1735.60" stroke="#000" stroke-width="0.85"/>
<line x1="137.30" y1="1735.60" x2="140.90" y2="1735.60" stroke="#000" stroke-width="0.85"/>
<line x1="137.30" y1="1729.40" x2="140.90" y2="1729.40" stroke="#000" stroke-width="0.85"/>
<line x1="153.30" y1="1485.75" x2="153.30" y2="1500.00" stroke="#222" stroke-width="0.85"/>
<line x1="151.50" y1="1485.75" x2="155.10" y2="1485.75" stroke="#333" stroke-width="0.85"/>
<line x1="194.20" y1="1753.25" x2="194.20" y2="1756.75" stroke="#000" stroke-width="0.85"/>
<line x1="192.40" y1="1756.75" x2="196.00" y2="1756.75" stroke="#000" stroke-width="0.85"/>
<line x1="192.40" y1="1753.25" x2="196.00" y2="1753.25" stroke="#000" stroke-width="0.85"/>
<line x1="208.40" y1="1509.50" x2="208.40" y2="1530.50" stroke="#2a0000" stroke-width="0.85"/>
<line x1="206.60" y1="1530.50" x2="210.20" y2="1530.50" stroke="#2a0000" stroke-width="0.85"/>
<line x1="206.60" y1="1509.50" x2="210.20" y2="1509.50" stroke="#2a0000" stroke-width="0.85"/>
<line x1="222.60" y1="1711.00" x2="222.60" y2="1718.00" stroke="#000" stroke-width="0.85"/>
<line x1="220.80" y1="1718.00" x2="224.40" y2="1718.00" stroke="#000" stroke-width="0.85"/>
<line x1="220.80" y1="1711.00" x2="224.40" y2="1711.00" stroke="#000" stroke-width="0.85"/>
<line x1="236.80" y1="1460.50" x2="236.80" y2="1475.00" stroke="#222" stroke-width="0.85"/>
<line x1="235.00" y1="1460.50" x2="238.60" y2="1460.50" stroke="#333" stroke-width="0.85"/>
<line x1="361.20" y1="1753.25" x2="361.20" y2="1756.75" stroke="#000" stroke-width="0.85"/>
<line x1="359.40" y1="1756.75" x2="363.00" y2="1756.75" stroke="#000" stroke-width="0.85"/>
<line x1="359.40" y1="1753.25" x2="363.00" y2="1753.25" stroke="#000" stroke-width="0.85"/>
<line x1="375.40" y1="1659.70" x2="375.40" y2="1670.10" stroke="#2a0000" stroke-width="0.85"/>
<line x1="373.60" y1="1670.10" x2="377.20" y2="1670.10" stroke="#2a0000" stroke-width="0.85"/>
<line x1="373.60" y1="1659.70" x2="377.20" y2="1659.70" stroke="#2a0000" stroke-width="0.85"/>
<line x1="389.60" y1="1705.30" x2="389.60" y2="1713.10" stroke="#000" stroke-width="0.85"/>
<line x1="387.80" y1="1713.10" x2="391.40" y2="1713.10" stroke="#000" stroke-width="0.85"/>
<line x1="387.80" y1="1705.30" x2="391.40" y2="1705.30" stroke="#000" stroke-width="0.85"/>
<line x1="403.80" y1="1588.40" x2="403.80" y2="1597.80" stroke="#222" stroke-width="0.85"/>
<line x1="402.00" y1="1588.40" x2="405.60" y2="1588.40" stroke="#333" stroke-width="0.85"/>
<line x1="444.70" y1="1753.25" x2="444.70" y2="1756.75" stroke="#000" stroke-width="0.85"/>
<line x1="442.90" y1="1756.75" x2="446.50" y2="1756.75" stroke="#000" stroke-width="0.85"/>
<line x1="442.90" y1="1753.25" x2="446.50" y2="1753.25" stroke="#000" stroke-width="0.85"/>
<line x1="458.90" y1="1687.80" x2="458.90" y2="1696.40" stroke="#2a0000" stroke-width="0.85"/>
<line x1="457.10" y1="1696.40" x2="460.70" y2="1696.40" stroke="#2a0000" stroke-width="0.85"/>
<line x1="457.10" y1="1687.80" x2="460.70" y2="1687.80" stroke="#2a0000" stroke-width="0.85"/>
<line x1="473.10" y1="1720.80" x2="473.10" y2="1727.20" stroke="#000" stroke-width="0.85"/>
<line x1="471.30" y1="1727.20" x2="474.90" y2="1727.20" stroke="#000" stroke-width="0.85"/>
<line x1="471.30" y1="1720.80" x2="474.90" y2="1720.80" stroke="#000" stroke-width="0.85"/>
<line x1="487.30" y1="1629.90" x2="487.30" y2="1637.70" stroke="#222" stroke-width="0.85"/>
<line x1="485.50" y1="1629.90" x2="489.10" y2="1629.90" stroke="#333" stroke-width="0.85"/>
<line x1="611.70" y1="1753.25" x2="611.70" y2="1756.75" stroke="#000" stroke-width="0.85"/>
<line x1="609.90" y1="1756.75" x2="613.50" y2="1756.75" stroke="#000" stroke-width="0.85"/>
<line x1="609.90" y1="1753.25" x2="613.50" y2="1753.25" stroke="#000" stroke-width="0.85"/>
<line x1="625.90" y1="1326.70" x2="625.90" y2="1359.30" stroke="#2a0000" stroke-width="0.85"/>
<line x1="624.10" y1="1359.30" x2="627.70" y2="1359.30" stroke="#2a0000" stroke-width="0.85"/>
<line x1="624.10" y1="1326.70" x2="627.70" y2="1326.70" stroke="#2a0000" stroke-width="0.85"/>
<line x1="640.10" y1="1731.75" x2="640.10" y2="1738.25" stroke="#000" stroke-width="0.85"/>
<line x1="638.30" y1="1738.25" x2="641.90" y2="1738.25" stroke="#000" stroke-width="0.85"/>
<line x1="638.30" y1="1731.75" x2="641.90" y2="1731.75" stroke="#000" stroke-width="0.85"/>
<line x1="654.30" y1="1308.75" x2="654.30" y2="1325.50" stroke="#222" stroke-width="0.85"/>
<line x1="695.20" y1="1753.25" x2="695.20" y2="1756.75" stroke="#000" stroke-width="0.85"/>
<line x1="693.40" y1="1756.75" x2="697.00" y2="1756.75" stroke="#000" stroke-width="0.85"/>
<line x1="693.40" y1="1753.25" x2="697.00" y2="1753.25" stroke="#000" stroke-width="0.85"/>
<line x1="709.40" y1="1602.50" x2="709.40" y2="1617.50" stroke="#2a0000" stroke-width="0.85"/>
<line x1="707.60" y1="1617.50" x2="711.20" y2="1617.50" stroke="#2a0000" stroke-width="0.85"/>
<line x1="707.60" y1="1602.50" x2="711.20" y2="1602.50" stroke="#2a0000" stroke-width="0.85"/>
<line x1="723.60" y1="1739.50" x2="723.60" y2="1745.50" stroke="#000" stroke-width="0.85"/>
<line x1="721.80" y1="1745.50" x2="725.40" y2="1745.50" stroke="#000" stroke-width="0.85"/>
<line x1="721.80" y1="1739.50" x2="725.40" y2="1739.50" stroke="#000" stroke-width="0.85"/>
<line x1="737.80" y1="1529.25" x2="737.80" y2="1541.25" stroke="#222" stroke-width="0.85"/>
<line x1="736.00" y1="1529.25" x2="739.60" y2="1529.25" stroke="#333" stroke-width="0.85"/>
<line x1="862.20" y1="1753.25" x2="862.20" y2="1756.75" stroke="#000" stroke-width="0.85"/>
<line x1="860.40" y1="1756.75" x2="864.00" y2="1756.75" stroke="#000" stroke-width="0.85"/>
<line x1="860.40" y1="1753.25" x2="864.00" y2="1753.25" stroke="#000" stroke-width="0.85"/>
<line x1="876.40" y1="1633.20" x2="876.40" y2="1644.80" stroke="#2a0000" stroke-width="0.85"/>
<line x1="874.60" y1="1644.80" x2="878.20" y2="1644.80" stroke="#2a0000" stroke-width="0.85"/>
<line x1="874.60" y1="1633.20" x2="878.20" y2="1633.20" stroke="#2a0000" stroke-width="0.85"/>
<line x1="890.60" y1="1665.80" x2="890.60" y2="1677.40" stroke="#000" stroke-width="0.85"/>
<line x1="888.80" y1="1677.40" x2="892.40" y2="1677.40" stroke="#000" stroke-width="0.85"/>
<line x1="888.80" y1="1665.80" x2="892.40" y2="1665.80" stroke="#000" stroke-width="0.85"/>
<line x1="904.80" y1="1431.10" x2="904.80" y2="1447.40" stroke="#222" stroke-width="0.85"/>
<line x1="903.00" y1="1431.10" x2="906.60" y2="1431.10" stroke="#333" stroke-width="0.85"/>
<line x1="945.70" y1="1753.25" x2="945.70" y2="1756.75" stroke="#000" stroke-width="0.85"/>
<line x1="943.90" y1="1756.75" x2="947.50" y2="1756.75" stroke="#000" stroke-width="0.85"/>
<line x1="943.90" y1="1753.25" x2="947.50" y2="1753.25" stroke="#000" stroke-width="0.85"/>
<line x1="959.90" y1="1650.20" x2="959.90" y2="1661.40" stroke="#2a0000" stroke-width="0.85"/>
<line x1="958.10" y1="1661.40" x2="961.70" y2="1661.40" stroke="#2a0000" stroke-width="0.85"/>
<line x1="958.10" y1="1650.20" x2="961.70" y2="1650.20" stroke="#2a0000" stroke-width="0.85"/>
<line x1="974.10" y1="1701.50" x2="974.10" y2="1710.30" stroke="#000" stroke-width="0.85"/>
<line x1="972.30" y1="1710.30" x2="975.90" y2="1710.30" stroke="#000" stroke-width="0.85"/>
<line x1="972.30" y1="1701.50" x2="975.90" y2="1701.50" stroke="#000" stroke-width="0.85"/>
<line x1="988.30" y1="1598.30" x2="988.30" y2="1607.90" stroke="#222" stroke-width="0.85"/>
<line x1="986.50" y1="1598.30" x2="990.10" y2="1598.30" stroke="#333" stroke-width="0.85"/>
</g>
<g id="labels">
<text transform="translate(337.88 30.70) scale(1.3273 1)" font-size="34">C</text>
<text transform="translate(440.38 30.60) scale(1.1701 1)" font-size="34">P</text>
<text transform="translate(545.87 30.60) scale(1.1843 1)" font-size="34">EO</text>
<text transform="translate(644.17 30.60) scale(1.1934 1)" font-size="34">EO+P</text>
<text transform="translate(3.00 98.75) scale(0.9036 1)" font-size="48.5">A</text>
<text transform="translate(4.83 702.60) scale(0.9290 1)" font-size="46.5">B</text>
<text transform="translate(3.32 1315.00) scale(0.9609 1)" font-size="48.5">C</text>
<text transform="translate(49.86 127.50) scale(0.9700 1)" font-size="34.6">16</text>
<text transform="translate(49.86 191.30) scale(0.9700 1)" font-size="34.6">14</text>
<text transform="translate(50.39 247.00) scale(0.9700 1)" font-size="34.6">12</text>
<text transform="translate(50.39 305.30) scale(0.9700 1)" font-size="34.6">10</text>
<text transform="translate(67.17 365.30) scale(0.9700 1)" font-size="34.6">8</text>
<text transform="translate(66.64 418.90) scale(0.9700 1)" font-size="34.6">6</text>
<text transform="translate(66.64 480.00) scale(0.9700 1)" font-size="34.6">4</text>
<text transform="translate(67.17 540.70) scale(0.9700 1)" font-size="34.6">2</text>
<text transform="translate(67.17 601.00) scale(0.9700 1)" font-size="34.6">0</text>
<text transform="translate(52.11 709.00) scale(0.9800 1)" font-size="33.8">50</text>
<text transform="translate(52.11 754.60) scale(0.9800 1)" font-size="33.8">45</text>
<text transform="translate(52.11 805.60) scale(0.9800 1)" font-size="33.8">40</text>
<text transform="translate(52.11 851.70) scale(0.9800 1)" font-size="33.8">35</text>
<text transform="translate(52.11 905.30) scale(0.9800 1)" font-size="33.8">30</text>
<text transform="translate(52.11 959.00) scale(0.9800 1)" font-size="33.8">25</text>
<text transform="translate(52.11 1005.60) scale(0.9800 1)" font-size="33.8">20</text>
<text transform="translate(52.11 1059.00) scale(0.9800 1)" font-size="33.8">15</text>
<text transform="translate(52.11 1108.00) scale(0.9800 1)" font-size="33.8">10</text>
<text transform="translate(68.67 1156.00) scale(0.9800 1)" font-size="33.8">5</text>
<text transform="translate(68.67 1204.00) scale(0.9800 1)" font-size="33.8">0</text>
<text transform="translate(62.49 1323.30) scale(0.9500 1)" font-size="34.6">9</text>
<text transform="translate(62.49 1373.10) scale(0.9500 1)" font-size="34.6">8</text>
<text transform="translate(61.98 1429.00) scale(0.9500 1)" font-size="34.6">7</text>
<text transform="translate(61.98 1481.50) scale(0.9500 1)" font-size="34.6">6</text>
<text transform="translate(62.49 1538.90) scale(0.9500 1)" font-size="34.6">5</text>
<text transform="translate(61.98 1594.20) scale(0.9500 1)" font-size="34.6">4</text>
<text transform="translate(62.49 1653.30) scale(0.9500 1)" font-size="34.6">3</text>
<text transform="translate(62.49 1709.25) scale(0.9500 1)" font-size="34.6">2</text>
<text transform="translate(63.01 1764.60) scale(0.9500 1)" font-size="34.6">1</text>
<text transform="translate(62.49 1818.90) scale(0.9500 1)" font-size="34.6">0</text>
<text transform="translate(98.58 616.60) scale(1.0494 1)" font-size="28.0">3 dpe</text>
<text transform="translate(180.33 616.60) scale(1.0494 1)" font-size="28.0">6 dpe</text>
<text transform="translate(335.33 616.60) scale(1.0494 1)" font-size="28.0">3 dpe</text>
<text transform="translate(425.33 616.60) scale(1.0494 1)" font-size="28.0">6 dpe</text>
<text transform="translate(579.33 616.60) scale(1.0494 1)" font-size="28.0">3 dpe</text>
<text transform="translate(668.83 616.60) scale(1.0494 1)" font-size="28.0">6 dpe</text>
<text transform="translate(823.08 616.60) scale(1.0494 1)" font-size="28.0">3 dpe</text>
<text transform="translate(905.58 616.60) scale(1.0494 1)" font-size="28.0">6 dpe</text>
<text transform="translate(106.08 1227.80) scale(1.0763 1)" font-size="27.3">3 dpe</text>
<text transform="translate(188.33 1227.80) scale(1.0763 1)" font-size="27.3">6 dpe</text>
<text transform="translate(343.33 1227.80) scale(1.0763 1)" font-size="27.3">3 dpe</text>
<text transform="translate(433.33 1227.80) scale(1.0763 1)" font-size="27.3">6 dpe</text>
<text transform="translate(587.58 1227.80) scale(1.0763 1)" font-size="27.3">3 dpe</text>
<text transform="translate(677.58 1227.80) scale(1.0763 1)" font-size="27.3">6 dpe</text>
<text transform="translate(832.58 1227.80) scale(1.0763 1)" font-size="27.3">3 dpe</text>
<text transform="translate(930.08 1227.80) scale(1.0763 1)" font-size="27.3">6 dpe</text>
<text transform="translate(94.58 1837.40) scale(1.0646 1)" font-size="27.6">3 dpe</text>
<text transform="translate(184.08 1837.40) scale(1.0646 1)" font-size="27.6">6 dpe</text>
<text transform="translate(346.28 1837.40) scale(1.0646 1)" font-size="27.6">3 dpe</text>
<text transform="translate(435.98 1837.40) scale(1.0646 1)" font-size="27.6">6 dpe</text>
<text transform="translate(598.38 1837.40) scale(1.0646 1)" font-size="27.6">3 dpe</text>
<text transform="translate(688.68 1837.40) scale(1.0646 1)" font-size="27.6">6 dpe</text>
<text transform="translate(843.38 1837.40) scale(1.0646 1)" font-size="27.6">3 dpe</text>
<text transform="translate(939.78 1837.40) scale(1.0646 1)" font-size="27.6">6 dpe</text>
<text transform="translate(142.34 655.90) scale(1.0069 1)" font-size="34.3" font-style="italic">PR1</text>
<text transform="translate(390.52 655.80) scale(0.9716 1)" font-size="34.3" font-style="italic">PR2</text>
<text transform="translate(630.26 655.30) scale(0.9429 1)" font-size="34.3" font-style="italic">PR3</text>
<text transform="translate(823.96 657.00) scale(0.9990 1)" font-size="34.3" font-style="italic">SbWRKY45</text>
<text transform="translate(131.02 1268.75) scale(0.9695 1)" font-size="34.3" font-style="italic">PR12</text>
<text transform="translate(369.02 1268.75) scale(0.9715 1)" font-size="34.3" font-style="italic">JERF3</text>
<text transform="translate(589.21 1268.75) scale(0.9995 1)" font-size="34.3" font-style="italic">SbWRKY1</text>
<text transform="translate(815.47 1268.75) scale(0.9930 1)" font-size="34.3" font-style="italic">SbWRKY19</text>
<text transform="translate(133.77 1882.40) scale(0.9680 1)" font-size="34.3" font-style="italic">PAL1</text>
<text transform="translate(373.79 1882.80) scale(0.9760 1)" font-size="34.3" font-style="italic">AFPRT</text>
<text transform="translate(643.70 1882.30) scale(0.9818 1)" font-size="34.3" font-style="italic">GST1</text>
<text transform="translate(896.11 1882.80) scale(0.9561 1)" font-size="34.3" font-style="italic">PR5</text>
<text x="106.64" y="555.50" font-size="22">d</text>
<text x="122.83" y="281.30" font-size="22">b</text>
<text x="138.92" y="462.40" font-size="22">c</text>
<text x="152.06" y="140.50" font-size="22">a</text>
<text x="187.34" y="555.50" font-size="22">d</text>
<text x="204.93" y="333.20" font-size="22">b</text>
<text x="219.12" y="414.90" font-size="22">c</text>
<text x="231.46" y="248.40" font-size="22">a</text>
<text x="346.64" y="555.60" font-size="22">d</text>
<text x="365.43" y="334.20" font-size="22">b</text>
<text x="378.62" y="381.80" font-size="22">c</text>
<text x="392.46" y="113.80" font-size="22">a</text>
<text x="427.14" y="555.60" font-size="22">d</text>
<text x="444.13" y="420.40" font-size="22">b</text>
<text x="460.12" y="496.90" font-size="22">c</text>
<text x="474.26" y="341.40" font-size="22">a</text>
<text x="586.64" y="555.50" font-size="22">d</text>
<text x="606.23" y="303.30" font-size="22">b</text>
<text x="619.62" y="425.10" font-size="22">c</text>
<text x="632.96" y="201.40" font-size="22">a</text>
<text x="667.14" y="555.50" font-size="22">d</text>
<text x="683.93" y="391.00" font-size="22">b</text>
<text x="701.02" y="474.10" font-size="22">c</text>
<text x="714.66" y="283.20" font-size="22">a</text>
<text x="826.24" y="555.40" font-size="22">d</text>
<text x="844.73" y="264.70" font-size="22">b</text>
<text x="860.32" y="523.10" font-size="22">c</text>
<text x="874.16" y="88.30" font-size="22">a</text>
<text x="906.84" y="555.40" font-size="22">d</text>
<text x="925.83" y="324.30" font-size="22">b</text>
<text x="940.92" y="542.30" font-size="22">c</text>
<text x="955.16" y="272.30" font-size="22">a</text>
<text x="106.74" y="1184.90" font-size="22">d</text>
<text x="124.13" y="1054.40" font-size="22">b</text>
<text x="136.82" y="1116.20" font-size="22">c</text>
<text x="151.16" y="952.90" font-size="22">a</text>
<text x="189.24" y="1184.90" font-size="22">d</text>
<text x="206.43" y="1089.30" font-size="22">b</text>
<text x="219.12" y="1120.40" font-size="22">c</text>
<text x="231.46" y="1009.00" font-size="22">a</text>
<text x="352.24" y="1184.90" font-size="22">d</text>
<text x="368.63" y="1000.80" font-size="22">b</text>
<text x="382.92" y="1080.10" font-size="22">c</text>
<text x="393.66" y="892.50" font-size="22">a</text>
<text x="434.74" y="1184.90" font-size="22">d</text>
<text x="449.83" y="1045.00" font-size="22">b</text>
<text x="465.82" y="1092.00" font-size="22">c</text>
<text x="476.46" y="906.40" font-size="22">a</text>
<text x="599.64" y="1184.70" font-size="22">d</text>
<text x="614.63" y="975.10" font-size="22">b</text>
<text x="628.52" y="1062.40" font-size="22">c</text>
<text x="641.46" y="750.30" font-size="22">a</text>
<text x="681.54" y="1184.70" font-size="22">d</text>
<text x="697.53" y="1022.10" font-size="22">b</text>
<text x="710.82" y="1095.10" font-size="22">c</text>
<text x="721.66" y="895.80" font-size="22">a</text>
<text x="844.54" y="1184.90" font-size="22">d</text>
<text x="859.93" y="1013.70" font-size="22">b</text>
<text x="874.12" y="1087.60" font-size="22">c</text>
<text x="885.96" y="927.00" font-size="22">a</text>
<text x="926.64" y="1184.90" font-size="22">d</text>
<text x="939.93" y="1022.40" font-size="22">b</text>
<text x="956.32" y="1106.40" font-size="22">c</text>
<text x="967.66" y="958.90" font-size="22">a</text>
<text x="104.12" y="1748.60" font-size="22">c</text>
<text x="120.56" y="1428.40" font-size="22">a</text>
<text x="135.12" y="1723.10" font-size="22">c</text>
<text x="149.73" y="1479.70" font-size="22">b</text>
<text x="187.92" y="1748.60" font-size="22">c</text>
<text x="204.73" y="1503.50" font-size="22">b</text>
<text x="218.02" y="1705.30" font-size="22">c</text>
<text x="231.56" y="1454.00" font-size="22">a</text>
<text x="355.62" y="1747.90" font-size="22">c</text>
<text x="370.23" y="1655.50" font-size="22">b</text>
<text x="384.12" y="1700.60" font-size="22">c</text>
<text x="397.36" y="1582.80" font-size="22">a</text>
<text x="438.22" y="1747.90" font-size="22">c</text>
<text x="453.33" y="1683.30" font-size="22">b</text>
<text x="469.32" y="1711.80" font-size="22">c</text>
<text x="481.16" y="1625.00" font-size="22">a</text>
<text x="605.23" y="1748.70" font-size="22">b</text>
<text x="619.06" y="1321.80" font-size="22">a</text>
<text x="634.13" y="1724.10" font-size="22">b</text>
<text x="649.36" y="1303.30" font-size="22">a</text>
<text x="691.62" y="1748.20" font-size="22">c</text>
<text x="704.13" y="1595.50" font-size="22">b</text>
<text x="719.52" y="1733.10" font-size="22">c</text>
<text x="730.96" y="1524.40" font-size="22">a</text>
<text x="857.22" y="1748.30" font-size="22">c</text>
<text x="871.23" y="1627.70" font-size="22">b</text>
<text x="885.43" y="1660.10" font-size="22">b</text>
<text x="899.06" y="1425.70" font-size="22">a</text>
<text x="937.64" y="1748.60" font-size="22">d</text>
<text x="954.03" y="1644.50" font-size="22">b</text>
<text x="968.32" y="1696.50" font-size="22">c</text>
<text x="981.76" y="1591.20" font-size="22">a</text>
</g>
</svg>
</body>
</html>
